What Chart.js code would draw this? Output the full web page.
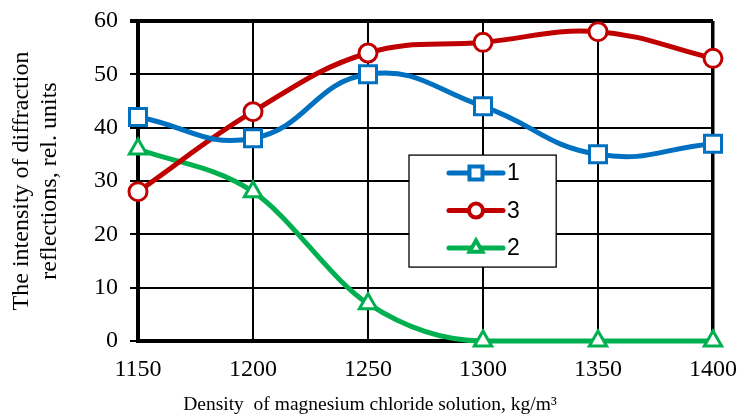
<!DOCTYPE html>
<html>
<head>
<meta charset="utf-8">
<script src="https://cdn.jsdelivr.net/npm/chart.js@4"></script>
<style>
  html, body { margin: 0; padding: 0; background: #fff; }
  #wrap { width: 740px; height: 417px; }
</style>
</head>
<body>
<div id="wrap"><canvas id="chart" width="740" height="417"></canvas></div>
<script>
// density of MgCl2 solution, kg/m3
const densities = [1150, 1200, 1250, 1300, 1350, 1400];
const series1 = [42, 38, 50, 44, 35, 37];
const series3 = [28, 43, 54, 56, 58, 53];
const series2 = [36, 28, 7, 0, 0, 0];
const seriesLabels = ["1", "3", "2"];
const xTitle = "Density  of magnesium chloride solution, kg/m\u00B3";

const blue = "#0070C0";
const red = "#C00000";
const green = "#00B050";

const serif = "'Liberation Serif', 'Times New Roman', serif";
const sans = "'Liberation Sans', Arial, sans-serif";

function pts(vals) {
    return vals.map((v, i) => ({ x: densities[i], y: v }));
}

// legend box sitting inside the plot, like the excel one
const boxLegend = {
    id: "boxLegend",
    afterDatasetsDraw(chart) {
        const ctx = chart.ctx;
        const a = chart.chartArea;
        const w = a.right - a.left, h = a.bottom - a.top;
        const bx = a.left + w * 0.4713, by = a.top + h * 0.419;
        const bw = w * 0.256, bh = h * 0.35;
        ctx.save();
        ctx.fillStyle = "#fff";
        ctx.fillRect(bx, by, bw, bh);
        ctx.strokeStyle = "#000";
        ctx.lineWidth = 1.3;
        ctx.strokeRect(bx, by, bw, bh);
        chart.data.datasets.forEach((ds, i) => {
            const y = by + 18 + i * 37.5;
            const x0 = bx + 40, x1 = bx + 94;
            ctx.strokeStyle = ds.borderColor;
            ctx.lineWidth = 5;
            ctx.lineCap = "round";
            ctx.beginPath();
            ctx.moveTo(x0, y);
            ctx.lineTo(x1, y);
            ctx.stroke();
            Chart.helpers.drawPoint(ctx, {
                pointStyle: ds.pointStyle,
                radius: ds.pointStyle === "rect" ? 8.5 : 6.5,
                borderWidth: 3
            }, (x0 + x1) / 2, y);
            ctx.fillStyle = "#fff";
            ctx.strokeStyle = ds.borderColor;
            ctx.lineWidth = 3;
            ctx.fill();
            ctx.stroke();
            ctx.fillStyle = "#000";
            ctx.font = "23px " + sans;
            ctx.textAlign = "left";
            ctx.textBaseline = "middle";
            ctx.fillText(ds.label, x1 + 4, y + 1);
        });
        ctx.restore();
    }
};

// x title is centred on the whole picture, not on the plot
const pageTitleX = {
    id: "pageTitleX",
    afterDraw(chart) {
        const ctx = chart.ctx;
        ctx.save();
        ctx.fillStyle = "#000";
        ctx.font = "19.5px " + serif;
        ctx.textAlign = "center";
        ctx.textBaseline = "middle";
        ctx.fillText(xTitle, chart.width / 2, chart.height - 12);
        ctx.restore();
    }
};

new Chart(document.getElementById("chart"), {
    type: "line",
    data: {
        datasets: [
            {
                label: seriesLabels[0],
                data: pts(series1),
                borderColor: blue,
                backgroundColor: "#fff",
                borderWidth: 5,
                tension: 0.45,
                pointStyle: "rect",
                pointRadius: 12,
                pointBorderWidth: 3
            },
            {
                label: seriesLabels[1],
                data: pts(series3),
                borderColor: red,
                backgroundColor: "#fff",
                borderWidth: 5,
                tension: 0.4,
                pointStyle: "circle",
                pointRadius: 9,
                pointBorderWidth: 3
            },
            {
                label: seriesLabels[2],
                data: pts(series2),
                borderColor: green,
                backgroundColor: "#fff",
                borderWidth: 5,
                cubicInterpolationMode: "monotone",
                pointStyle: "triangle",
                pointRadius: 10,
                pointBorderWidth: 3
            }
        ]
    },
    options: {
        responsive: false,
        animation: false,
        clip: false,
        layout: { padding: { top: 21, right: 27, left: 0, bottom: 0 } },
        plugins: {
            legend: { display: false },
            tooltip: { enabled: false }
        },
        scales: {
            x: {
                type: "linear",
                min: 1150,
                max: 1400,
                afterFit(scale) {
                    scale.height = 76;
                    scale.paddingLeft = 0;
                    scale.paddingRight = 0;
                },
                afterBuildTicks(scale) { scale.ticks = densities.map(v => ({ value: v })); },
                grid: {
                    color: "#000",
                    lineWidth: c => (c.tick && c.tick.value === 1400 ? 3.5 : 2),
                    drawTicks: false
                },
                border: { color: "#000", width: 4 },
                ticks: {
                    color: "#000",
                    font: { family: serif, size: 24 },
                    padding: 14,
                    maxRotation: 0,
                    callback: v => String(v)
                },
                title: { display: false }
            },
            y: {
                min: 0,
                max: 60,
                afterFit(scale) {
                    scale.width = 138;
                    scale.paddingTop = 0;
                    scale.paddingBottom = 0;
                },
                grid: {
                    color: "#000",
                    lineWidth: c => (c.tick && c.tick.value === 60 ? 4 : 2),
                    tickLength: 8
                },
                border: { color: "#000", width: 4 },
                ticks: { stepSize: 10, color: "#000", font: { family: serif, size: 24 }, padding: 12 },
                title: {
                    display: true,
                    text: ["The intensity of diffraction", "reflections, rel. units"],
                    color: "#000",
                    font: { family: serif, size: 24, lineHeight: 1.17 },
                    padding: { top: 8, bottom: 0 }
                }
            }
        }
    },
    plugins: [boxLegend, pageTitleX]
});
</script>
</body>
</html>
